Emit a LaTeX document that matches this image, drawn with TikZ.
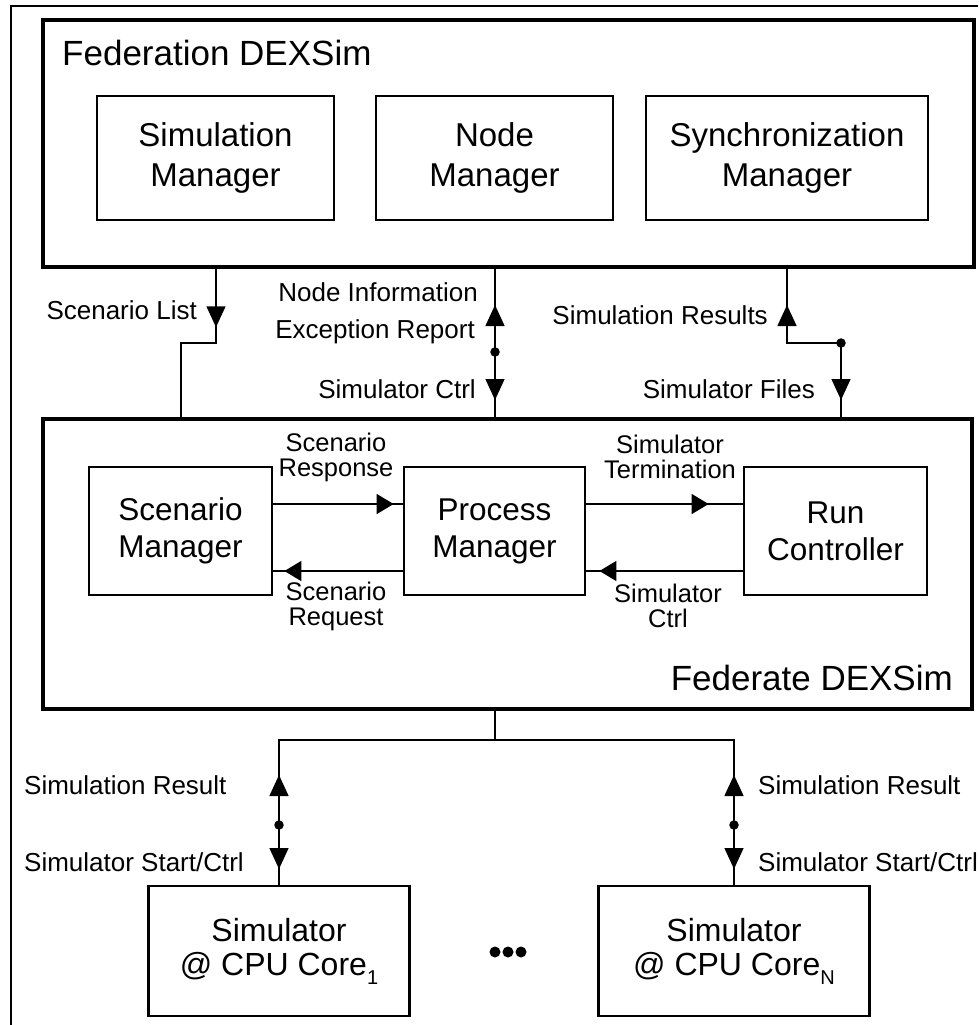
\documentclass[tikz,border=0pt]{standalone}
\usepackage{fontspec}
\setmainfont{Liberation Sans}
\usetikzlibrary{arrows.meta}
\newcommand{\subsc}[1]{\raisebox{-0.28em}{\fontsize{20}{20}\selectfont #1}}
\begin{document}
\begin{tikzpicture}[x=1pt,y=-1pt,
 bigbox/.style={draw, line width=4.5pt, inner sep=0pt},
 topbox/.style={draw, line width=2.8pt, align=center, inner sep=0pt, font=\fontsize{33}{40}\selectfont},
 midbox/.style={draw, line width=2.8pt, align=center, inner sep=0pt, font=\fontsize{31.5}{37}\selectfont},
 simbox/.style={draw, line width=2.8pt, align=center, inner sep=0pt, font=\fontsize{32}{34}\selectfont, minimum height=130pt},
 conn/.style={line width=1.5pt},
 tipv/.style={conn, -{Triangle[length=21pt,width=19pt]}},
 tiph/.style={conn, -{Triangle[length=17pt,width=20pt]}},
 lbl/.style={font=\fontsize{26}{26}\selectfont, inner sep=0pt},
 lbltwo/.style={align=center, inner sep=0pt, font=\fontsize{25.5}{25}\selectfont},
 title/.style={font=\fontsize{35}{35}\selectfont, inner sep=0pt},
 jdot/.style={fill, circle, inner sep=0pt, minimum size=9.5pt}
]
\useasboundingbox (0,0) rectangle (978,1025);
% outer frame (partially visible)
\draw[line width=2pt] (11,1025) -- (11,6) -- (978,6);

% Federation DEXSim
\node[bigbox, minimum width=931pt, minimum height=247pt] (fed) at (508.5,143.5) {};
\node[title, anchor=base west] (fedtitle) at (62,66) {Federation DEXSim};
\node[topbox, minimum width=237pt, minimum height=124pt] (simmgr) at (215.5,158) {\raisebox{-4pt}{\begin{tabular}{@{}c@{}}Simulation\\Manager\end{tabular}}};
\node[topbox, minimum width=237pt, minimum height=124pt] (nodemgr) at (494.5,158) {\raisebox{-4pt}{\begin{tabular}{@{}c@{}}Node\\Manager\end{tabular}}};
\node[topbox, minimum width=282pt, minimum height=124pt] (syncmgr) at (787,158) {\raisebox{-4pt}{\begin{tabular}{@{}c@{}}Synchronization\\Manager\end{tabular}}};

% Federate DEXSim
\node[bigbox, minimum width=929pt, minimum height=290pt] (fedt) at (507.5,564) {};
\node[title, anchor=base east] (fedttitle) at (953,690) {Federate DEXSim};
\node[midbox, minimum width=183pt, minimum height=128pt] (scen) at (180.5,531) {Scenario\\Manager};
\node[midbox, minimum width=181pt, minimum height=128pt] (proc) at (494.5,531) {Process\\Manager};
\node[midbox, minimum width=183pt, minimum height=128pt] (run) at (835.5,531) {Run\\Controller};

% Simulators
\node[simbox, minimum width=261pt] (sim1) at (279,951) {Simulator\\@ CPU Core\subsc{1}};
\node[simbox, minimum width=271pt] (simN) at (734,951) {Simulator\\@ CPU Core\subsc{N}};
\foreach \i/\xx in {1/495,2/508,3/521}{
  \node[jdot, minimum size=11pt] (ell\i) at (\xx,952) {};
}

% ---- connectors between Federation and Federate ----
\coordinate (slTop) at (216,343);
\coordinate (slBot) at (181,343);
\draw[conn] (fed.south -| slTop) -- (slTop) -- (slBot) -- (fedt.north -| slBot);
\draw[tipv] (fed.south -| slTop) -- ++(0,58);
\node[lbl, anchor=base east] (lsl) at (197,319) {Scenario List};

\coordinate (ndot) at (495,352);
\draw[conn] (fed.south -| ndot) -- (fedt.north -| ndot);
\draw[tipv] (ndot) -- ++(0,-47);
\draw[tipv] (ndot) -- ++(0,48);
\node[jdot] (ndotn) at (ndot) {};
\node[lbl, anchor=base east] (lni) at (478,301) {Node Information};
\node[lbl, anchor=base east] (ler) at (475,338) {Exception Report};
\node[lbl, anchor=base east] (lsc) at (476,398) {Simulator Ctrl};

\coordinate (rbend) at (787,343);
\coordinate (rdot) at (841,343);
\draw[conn] (fed.south -| rbend) -- (rbend) -- (rdot) -- (fedt.north -| rdot);
\draw[tipv] (rbend) -- ++(0,-38);
\draw[tipv] (rdot) -- ++(0,57);
\node[jdot] (rdotn) at (rdot) {};
\node[lbl, anchor=base east] (lsr) at (768,324) {Simulation Results};
\node[lbl, anchor=base east] (lsf) at (815,398) {Simulator Files};

% ---- inside Federate ----
\coordinate (yUp) at (0,504);
\coordinate (yLo) at (0,571);
\draw[conn] (scen.east |- yUp) -- (proc.west |- yUp);
\draw[tiph, shorten >=9pt] (scen.east |- yUp) -- (proc.west |- yUp);
\draw[conn] (proc.west |- yLo) -- (scen.east |- yLo);
\draw[tiph, shorten >=11pt] (proc.west |- yLo) -- (scen.east |- yLo);
\draw[conn] (proc.east |- yUp) -- (run.west |- yUp);
\draw[tiph, shorten >=34pt] (proc.east |- yUp) -- (run.west |- yUp);
\draw[conn] (run.west |- yLo) -- (proc.east |- yLo);
\draw[tiph, shorten >=13pt] (run.west |- yLo) -- (proc.east |- yLo);
\node[lbltwo] (lsresp) at (336,457) {Scenario\\Response};
\node[lbltwo] (lsreq) at (336,606) {Scenario\\Request};
\node[lbltwo] (lterm) at (670,457) {Simulator\\Termination};
\node[lbltwo] (lctrl) at (668,606) {Simulator\\Ctrl};

% ---- Federate to simulators ----
\coordinate (bj) at (495,740);
\coordinate (bl) at (279,740);
\coordinate (br) at (734,740);
\draw[conn] (fedt.south -| bj) -- (bj);
\draw[conn] (sim1.north) -- (bl) -- (br) -- (simN.north);
\coordinate (ldot) at (279,825);
\coordinate (rdotb) at (734,825);
\draw[tipv] (ldot) -- ++(0,-50);
\draw[tipv] (ldot) -- ++(0,44);
\draw[tipv] (rdotb) -- ++(0,-50);
\draw[tipv] (rdotb) -- ++(0,44);
\node[jdot] (ldotn) at (ldot) {};
\node[jdot] (rdotbn) at (rdotb) {};
\node[lbl, anchor=base west] (lres1) at (24,794) {Simulation Result};
\node[lbl, anchor=base west] (lst1) at (24,871) {Simulator Start/Ctrl};
\node[lbl, anchor=base west] (lres2) at (758,794) {Simulation Result};
\node[lbl, anchor=base west] (lst2) at (758,871) {Simulator Start/Ctrl};
\end{tikzpicture}
\end{document}
